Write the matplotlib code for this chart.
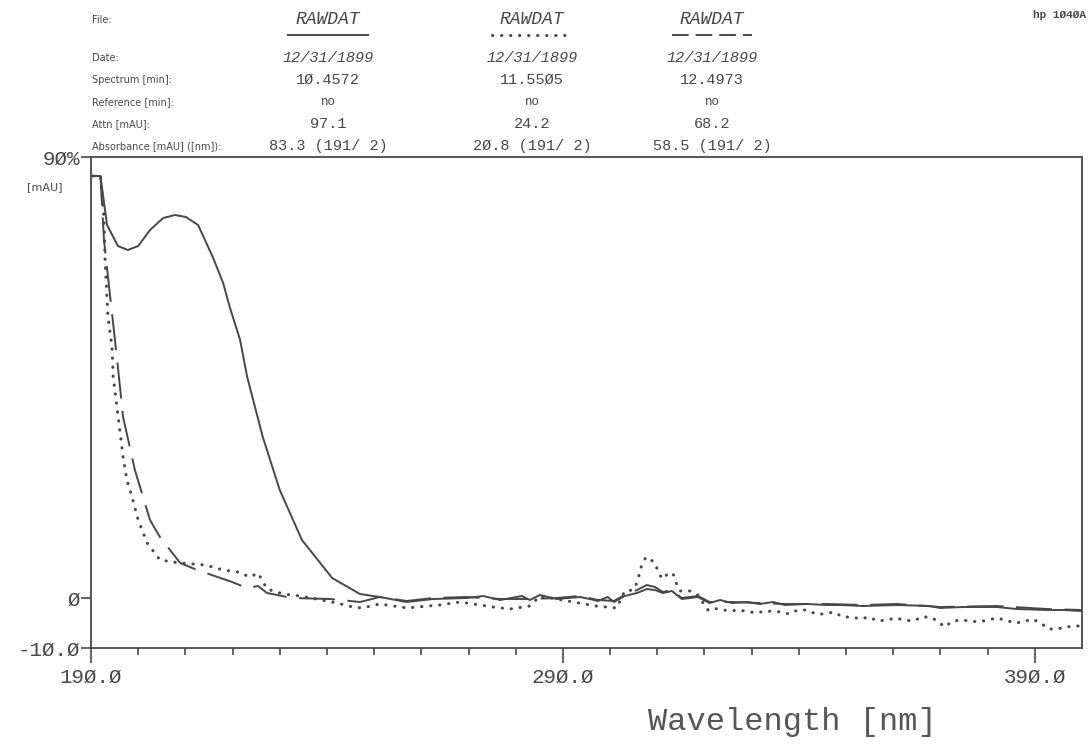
import matplotlib.pyplot as plt
from matplotlib.lines import Line2D

plt.rcParams['lines.scale_dashes'] = False

# spectrum 1 (solid), 10.4572 min
wl1 = [190.5, 192.0, 193.4, 195.7, 197.8, 200.0, 202.5, 205.3, 207.8, 210.1, 212.7, 215.8,
       218.0, 219.4, 221.6, 223.1, 226.4, 230.0, 234.7, 241.1, 247.0, 251.2, 256.9, 262.5,
       269.7, 273.1, 276.7, 281.3, 283.0, 285.1, 288.7, 293.6, 295.7, 297.4, 299.5, 300.8,
       303.1, 305.7, 307.8, 309.5, 311.2, 313.1, 315.2, 318.6, 321.1, 323.3, 325.8, 329.0,
       331.7, 334.5, 337.0, 341.7, 345.9, 348.7, 353.6, 360.8, 367.8, 369.9, 374.7, 381.9,
       386.2, 392.5, 395.9, 400.0]
ab1 = [84.4, 84.4, 74.6, 70.4, 69.6, 70.4, 73.6, 76.0, 76.6, 76.2, 74.6, 68.2,
       63.0, 58.2, 51.6, 44.2, 32.2, 21.6, 11.6, 4.0, 0.8, 0.2, -0.8, -0.2,
       0.0, 0.4, -0.4, 0.4, -0.4, 0.6, -0.2, 0.2, -0.2, -0.6, 0.2, -0.8,
       0.4, 1.0, 1.8, 1.6, 1.0, 1.4, -0.2, 0.2, -1.0, -0.4, -1.0, -0.8,
       -1.2, -0.8, -1.4, -1.2, -1.4, -1.4, -1.6, -1.4, -1.6, -2.0, -1.8, -1.8,
       -2.2, -2.4, -2.4, -2.6]

# spectrum 2 (dashed), 11.5505 min
wl2 = [190.5, 192.0, 192.75, 193.6, 194.45, 195.7, 196.8, 199.3, 202.5, 204.6, 208.9, 212.5,
       219.9, 223.05, 225.4, 227.3, 232.6, 240.6, 247.0, 251.2, 256.9, 262.5, 269.7, 276.7,
       283.0, 288.7, 293.6, 297.4, 300.8, 303.1, 305.7, 307.8, 309.5, 311.2, 313.1, 315.2,
       318.6, 321.1, 325.8, 331.7, 337.0, 345.9, 353.6, 360.8, 369.9, 381.9, 392.5, 400.0]
ab2 = [84.4, 84.4, 71.6, 64.2, 57.0, 46.2, 36.2, 25.6, 15.6, 12.2, 7.0, 5.6,
       3.2, 2.0, 2.4, 1.0, 0.0, -0.2, -0.8, 0.2, -0.6, 0.0, 0.2, -0.2,
       -0.2, 0.0, 0.4, -0.4, -0.6, 0.6, 1.6, 2.6, 2.2, 1.2, 1.6, 0.0,
       0.4, -0.8, -0.8, -1.0, -1.2, -1.2, -1.4, -1.2, -1.8, -1.6, -2.2, -2.4]

# spectrum 3 (dotted), 12.4973 min
wl3 = [190.5, 192.0, 192.75, 193.0, 193.6, 194.45, 194.7, 195.5, 196.1, 196.8, 197.6, 198.7,
       200.0, 201.9, 204.6, 208.9, 214.2, 218.0, 221.1, 223.7, 225.4, 227.3, 230.7, 234.3,
       240.0, 242.1, 245.5, 247.4, 251.2, 256.9, 263.9, 268.2, 275.2, 278.8, 283.0, 285.1,
       297.0, 301.4, 303.1, 304.8, 305.7, 306.7, 307.6, 309.3, 310.1, 311.0, 312.2, 313.3,
       313.9, 314.8, 316.9, 318.6, 320.7, 321.6, 325.4, 327.1, 331.1, 332.8, 336.6, 337.9,
       339.8, 341.7, 343.6, 345.5, 347.4, 349.3, 351.2, 353.1, 354.8, 356.7, 358.6, 360.6,
       362.2, 364.2, 366.1, 367.8, 369.4, 370.9, 372.6, 374.5, 376.2, 378.1, 380.0, 381.9,
       383.9, 385.6, 387.5, 389.4, 391.3, 392.8, 394.7, 396.6, 398.7, 400.0]
ab3 = [84.4, 84.4, 76.0, 67.0, 56.2, 50.2, 44.2, 38.2, 33.6, 28.2, 23.6, 20.2,
       15.6, 11.0, 7.6, 7.0, 6.6, 5.6, 5.2, 4.2, 5.0, 1.8, 0.8, 0.4,
       -0.6, -1.0, -1.8, -2.0, -1.2, -2.0, -1.4, -0.8, -1.8, -2.2, -1.6, 0.4,
       -1.6, -2.0, 1.4, 1.6, 3.0, 6.6, 8.2, 7.2, 5.6, 3.8, 4.8, 5.0,
       3.2, 1.4, 1.4, 0.6, -2.4, -2.0, -2.6, -2.4, -3.0, -2.6, -2.8, -3.2,
       -2.4, -2.4, -3.2, -3.2, -2.8, -3.8, -3.8, -4.2, -3.8, -4.6, -4.4, -4.0,
       -4.4, -4.6, -3.8, -3.8, -4.6, -5.8, -4.6, -4.4, -4.6, -4.8, -4.4, -4.0,
       -4.4, -5.0, -4.8, -4.2, -5.0, -6.2, -6.2, -5.8, -5.6, -5.6]

header_rows = ['File:', 'Date:', 'Spectrum [min]:', 'Reference [min]:', 'Attn [mAU]:',
               'Absorbance [mAU] ([nm]):']
files = ['RAWDAT', 'RAWDAT', 'RAWDAT']
dates = ['12/31/1899', '12/31/1899', '12/31/1899']
spec_times = ['1Ø.4572', '11.55Ø5', '12.4973']
refs = ['no', 'no', 'no']
attn = ['97.1', '24.2', '68.2']
absorb = ['83.3 (191/ 2)', '2Ø.8 (191/ 2)', '58.5 (191/ 2)']

ink = '#474747'
W, H = 1092, 746
mono = 'Liberation Mono'

fig = plt.figure(figsize=(W / 100, H / 100), dpi=100)
ax = fig.add_axes([91 / W, 98 / H, 991 / W, 491 / H])

ax.plot(wl1, ab1, color=ink, lw=1.4)
ax.plot(wl2, ab2, color=ink, lw=1.4, dashes=(26, 9))
ax.plot(wl3, ab3, color=ink, lw=2.2, dashes=(0.2, 6.3), dash_capstyle='round')

ax.set_xlim(190, 400)
ax.set_ylim(-10, 88.2)
ax.set_xticks([190, 290, 390])
ax.set_xticklabels(['19Ø.Ø', '29Ø.Ø', '39Ø.Ø'])
ax.set_xticks(range(200, 400, 10), minor=True)
ax.set_yticks([-10, 0, 88.2])
ax.set_yticklabels(['-1Ø.Ø', 'Ø', '9Ø%'])
ax.tick_params(axis='x', which='major', length=11, width=1.2, pad=3, labelsize=15, colors=ink)
ax.tick_params(axis='x', which='minor', length=5, width=1.2, colors=ink)
ax.tick_params(axis='y', length=7, width=1.2, pad=1, labelsize=15, colors=ink)
for lbl in ax.get_xticklabels() + ax.get_yticklabels():
    lbl.set_family(mono)
for s in ax.spines.values():
    s.set_color(ink)
    s.set_linewidth(1.3)

fig.text(62 / W, 1 - 187 / H, '[mAU]', ha='right', va='center', fontsize=8, color=ink)
fig.text(792 / W, 1 - 722 / H, 'Wavelength [nm]', ha='center', va='center',
         fontsize=23, family=mono, color='#555555')
fig.text(1086 / W, 1 - 15 / H, 'hp 1Ø4ØA', ha='right', va='center', fontsize=8,
         family=mono, fontweight='bold', color=ink)

# header block
row_y = [20, 58, 80, 102, 124, 146]
cols = [328, 532, 712]
for label, y in zip(header_rows, row_y):
    fig.text(92 / W, 1 - y / H, label, ha='left', va='center', fontsize=7, color=ink)
for vals, y, fs, sty in zip([files, dates, spec_times, refs, attn, absorb], row_y,
                            [13, 11, 11, 9, 11, 11],
                            ['italic', 'italic', 'normal', 'normal', 'normal', 'normal']):
    for v, cx in zip(vals, cols):
        fig.text(cx / W, 1 - y / H, v, ha='center', va='center', fontsize=fs,
                 family=mono, style=sty, color=ink)

# line-style keys under the file names
styles = [dict(lw=1.4), dict(lw=2.2, dashes=(0.2, 6.3), dash_capstyle='round'),
          dict(lw=1.4, dashes=(12, 5))]
for cx, st in zip(cols, styles):
    fig.add_artist(Line2D([(cx - 40) / W, (cx + 40) / W], [1 - 35 / H, 1 - 35 / H],
                          color=ink, **st))

fig.savefig('out.png', dpi=100)
